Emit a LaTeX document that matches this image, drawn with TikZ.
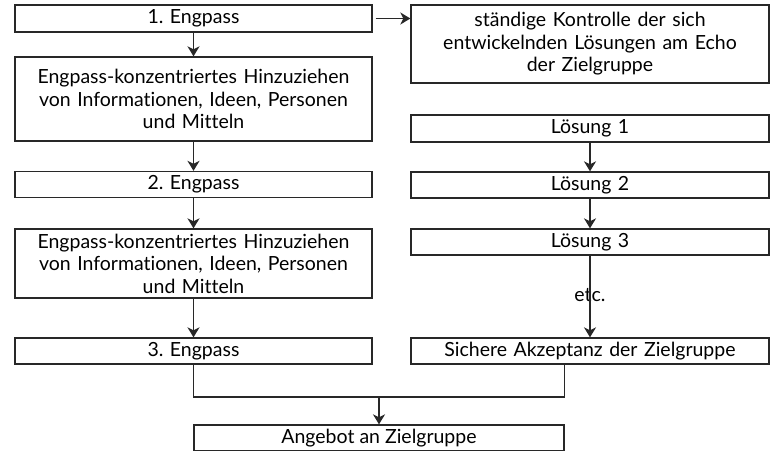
\documentclass[tikz,border=0pt]{standalone}
\usepackage{fontspec}
\setmainfont{Lato}[Ligatures=NoCommon]
\usetikzlibrary{arrows.meta, positioning}
\definecolor{mydark}{RGB}{40,40,40}
\tikzset{
  box/.style={rectangle, draw=mydark, line width=1.3pt, inner sep=0pt,
    align=center, font=\fontsize{19.5}{22.5}\selectfont},
  leftbox/.style={box, minimum width=357pt, text width=350pt},
  rightbox/.style={box, minimum width=358pt, text width=350pt},
  arrow/.style={-{Stealth[length=10pt, width=12pt, inset=3pt]}, line width=1.8pt, color=mydark},
  line/.style={line width=1.3pt, color=mydark}
}
\frenchspacing
\begin{document}
\begin{tikzpicture}[x=1pt, y=-1pt]
  \useasboundingbox (0,0) rectangle (770,450);

  % left column: bottlenecks
  \node[leftbox, minimum height=27pt] (eng1) at (193.5,18.5) {1. Engpass};
  \node[leftbox, minimum height=84pt] (hinz1) at (193.5,99) {Engpass-konzentriertes Hinzuziehen\\von Informationen, Ideen, Personen\\und Mitteln};
  \node[leftbox, minimum height=26pt] (eng2) at (193.5,184.5) {2. Engpass};
  \node[leftbox, minimum height=69pt] (hinz2) at (193.5,263.5) {Engpass-konzentriertes Hinzuziehen\\von Informationen, Ideen, Personen\\und Mitteln};
  \node[leftbox, minimum height=26pt] (eng3) at (193.5,351) {3. Engpass};

  % right column: solutions
  \node[rightbox, minimum height=78pt] (kontr) at (590,44) {ständige Kontrolle der sich\\entwickelnden Lösungen am Echo\\der Zielgruppe};
  \node[rightbox, minimum height=27pt] (loes1) at (590,128.5) {Lösung 1};
  \node[rightbox, minimum height=26pt] (loes2) at (590,185) {Lösung 2};
  \node[rightbox, minimum height=26pt] (loes3) at (590,242) {Lösung 3};
  \node[font=\fontsize{19.5}{20}\selectfont] (etc) at (590,295) {etc.};
  \node[rightbox, minimum height=26pt] (akz) at (590,351) {Sichere Akzeptanz der Zielgruppe};

  % result
  \node[box, minimum width=370pt, minimum height=26pt] (angeb) at (379,438) {Angebot an Zielgruppe};
  \coordinate (join) at (379,397);

  % connectors
  \draw[arrow] (eng1) -- (hinz1);
  \draw[arrow] (hinz1) -- (eng2);
  \draw[arrow] (eng2) -- (hinz2);
  \draw[arrow] (hinz2) -- (eng3);
  \draw[arrow, shorten <=3pt] (eng1.east) -- (kontr.west |- eng1.east);
  \draw[arrow] (loes1) -- (loes2);
  \draw[arrow] (loes2) -- (loes3);
  \draw[arrow] (loes3) -- (akz);
  \draw[line] (eng3.south) |- (angeb.north east |- join) -- (angeb.north east |- akz.south);
  \draw[arrow] (join) -- (angeb.north);
\end{tikzpicture}
\end{document}
